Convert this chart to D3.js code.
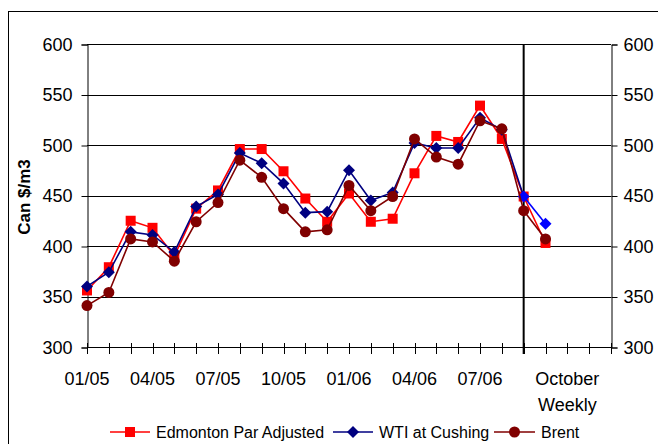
<!DOCTYPE html>
<html>
<head>
<meta charset="utf-8">
<script src="https://cdn.jsdelivr.net/npm/d3@7"></script>
<style>
  body { margin: 0; background: #fff; }
  svg { display: block; font-family: Arial, "Liberation Sans", sans-serif; }
</style>
</head>
<body>
<svg width="658" height="444"></svg>
<script>
// categories: 21 months then 4 october weeks
const categories = ['01/05','02/05','03/05','04/05','05/05','06/05','07/05','08/05','09/05','10/05','11/05','12/05',
  '01/06','02/06','03/06','04/06','05/06','06/06','07/06','08/06','09/06','Oct w1','Oct w2','Oct w3','Oct w4']
const tickLabels = [[0, '01/05'], [3, '04/05'], [6, '07/05'], [9, '10/05'], [12, '01/06'], [15, '04/06'], [18, '07/06']]
const yTicks = [300, 350, 400, 450, 500, 550, 600]

const edmonton = [356, 379, 425, 418, 390, 437, 455, 496, 496, 474, 447, 424,
  452, 424, 427, 472, 509, 503, 539, 506, 449, 403]
const wti = [360, 374, 414, 411, 394, 439, 451, 492, 482, 462, 433, 434,
  475, 445, 453, 502, 497, 497, 527, 515, 449, 422]
const brent = [341, 354, 407, 404, 385, 424, 443, 485, 468, 437, 414, 416,
  460, 435, 449, 506, 488, 481, 524, 516, 435, 407]

const svg = d3.select('svg')

// outer frame (cut off at right and bottom like the original)
svg.append('rect')
  .attr('x', 8.5).attr('y', 11.5)
  .attr('width', 700).attr('height', 500)
  .attr('fill', 'none').attr('stroke', '#000').attr('stroke-width', 1)

const x = d3.scaleLinear().domain([0, categories.length - 1]).range([87, 611])
const y = d3.scaleLinear().domain([300, 600]).range([347, 44])

// gridlines
svg.append('g')
  .selectAll('line')
  .data(yTicks)
  .enter()
  .append('line')
  .attr('x1', 87).attr('x2', 611)
  .attr('y1', d => Math.round(y(d)) + 0.5).attr('y2', d => Math.round(y(d)) + 0.5)
  .attr('stroke', '#000').attr('stroke-width', 1)

// left and right axis
const leftAxis = d3.axisLeft(y).tickValues(yTicks).tickSize(6).tickPadding(9)
const rightAxis = d3.axisRight(y).tickValues(yTicks).tickSize(6).tickPadding(6)

const gl = svg.append('g').attr('transform', 'translate(87.5,0.5)').call(leftAxis)
const gr = svg.append('g').attr('transform', 'translate(611.5,0.5)').call(rightAxis)
;[gl, gr].forEach(g => {
  g.select('.domain').attr('stroke', '#000')
  g.selectAll('.tick line').attr('stroke', '#000')
  g.selectAll('.tick text').attr('font-size', 18).attr('fill', '#000')
    .attr('font-family', 'Arial, "Liberation Sans", sans-serif')
})

// bottom axis ticks (cross style)
svg.append('g')
  .selectAll('line')
  .data(categories)
  .enter()
  .append('line')
  .attr('x1', (d, i) => Math.round(x(i)) + 0.5).attr('x2', (d, i) => Math.round(x(i)) + 0.5)
  .attr('y1', 343).attr('y2', 354)
  .attr('stroke', '#000')

svg.append('line')
  .attr('x1', 87).attr('x2', 611)
  .attr('y1', 347.5).attr('y2', 347.5)
  .attr('stroke', '#000')

svg.append('g')
  .selectAll('text')
  .data(tickLabels)
  .enter()
  .append('text')
  .attr('x', d => x(d[0]))
  .attr('y', 385)
  .attr('text-anchor', 'middle')
  .attr('font-size', 18)
  .text(d => d[1])

svg.append('text')
  .attr('x', x(22)).attr('y', 385)
  .attr('text-anchor', 'middle').attr('font-size', 18)
  .text('October')
svg.append('text')
  .attr('x', x(22)).attr('y', 411)
  .attr('text-anchor', 'middle').attr('font-size', 18)
  .text('Weekly')

// vertical divider between monthly and weekly
svg.append('line')
  .attr('x1', x(20)).attr('x2', x(20))
  .attr('y1', 44).attr('y2', 354)
  .attr('stroke', '#000').attr('stroke-width', 2)

// y title
svg.append('text')
  .attr('transform', 'translate(30,197) rotate(-90)')
  .attr('text-anchor', 'middle')
  .attr('font-size', 17)
  .attr('font-weight', 'bold')
  .text('Can $/m3')

const line = d3.line().x((d, i) => x(i)).y(d => y(d))

function drawMarker(g, type, cx, cy, color) {
  if (type === 'square') {
    g.append('rect').attr('x', cx - 5).attr('y', cy - 5).attr('width', 10).attr('height', 10).attr('fill', color)
  } else if (type === 'diamond') {
    g.append('path').attr('d', `M${cx},${cy - 6}L${cx + 6},${cy}L${cx},${cy + 6}L${cx - 6},${cy}Z`).attr('fill', color)
  } else {
    g.append('circle').attr('cx', cx).attr('cy', cy).attr('r', 5.5).attr('fill', color)
  }
}

const series = [
  { name: 'Edmonton Par Adjusted', values: edmonton, color: '#ff0000', weekColor: '#ff0000', marker: 'square' },
  { name: 'WTI at Cushing', values: wti, color: '#000080', weekColor: '#0000ff', marker: 'diamond' },
  { name: 'Brent', values: brent, color: '#800000', weekColor: '#800000', marker: 'circle' }
]

series.forEach(s => {
  const g = svg.append('g')
  g.append('path')
    .attr('d', line(s.values.slice(0, 21)))
    .attr('fill', 'none').attr('stroke', s.color).attr('stroke-width', 1.6)
  // weekly segment
  g.append('path')
    .attr('d', d3.line().x(d => x(d[0])).y(d => y(d[1]))([[20, s.values[20]], [21, s.values[21]]]))
    .attr('fill', 'none').attr('stroke', s.weekColor).attr('stroke-width', 1.6)
  s.values.forEach((v, i) => {
    drawMarker(g, s.marker, x(i), y(v), i >= 20 ? s.weekColor : s.color)
  })
})

// legend
const legendX = [[110, 150, 156], [333, 373, 379], [494, 535, 541]]
series.forEach((s, i) => {
  const lg = svg.append('g')
  const [x1, x2, tx] = legendX[i]
  lg.append('line').attr('x1', x1).attr('x2', x2).attr('y1', 432).attr('y2', 432)
    .attr('stroke', s.color).attr('stroke-width', 1.6)
  drawMarker(lg, s.marker, (x1 + x2) / 2, 432, s.color)
  lg.append('text').attr('x', tx).attr('y', 438).attr('font-size', 16).text(s.name)
})
</script>
</body>
</html>
